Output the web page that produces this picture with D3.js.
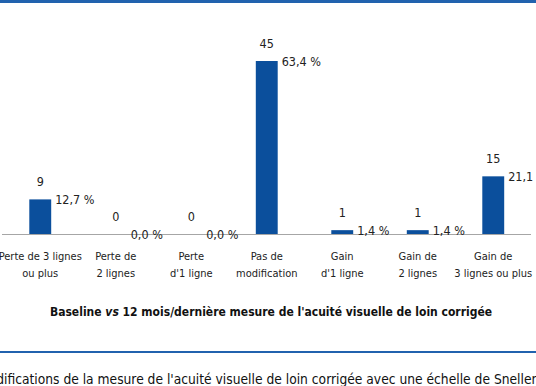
<!DOCTYPE html>
<html lang="fr">
<head>
<meta charset="UTF-8">
<title>acuité visuelle</title>
<script src="https://cdn.jsdelivr.net/npm/d3@7"></script>
<style>
  body { margin: 0; background: #fff; }
  svg { display: block; }
  .lbl { font-family: "DejaVu Sans Condensed", "Liberation Sans Narrow", sans-serif; font-size: 11px; fill: #222; }
  .cnt, .pct { font-size: 12.5px; }
</style>
</head>
<body>
<div id="chart"></div>
<script>
// données
const categories = [
  ["Perte de 3 lignes", "ou plus"],
  ["Perte de", "2 lignes"],
  ["Perte", "d'1 ligne"],
  ["Pas de", "modification"],
  ["Gain", "d'1 ligne"],
  ["Gain de", "2 lignes"],
  ["Gain de", "3 lignes ou plus"]
];
const counts = [9, 0, 0, 45, 1, 1, 15];
const percents = ["12,7 %", "0,0 %", "0,0 %", "63,4 %", "1,4 %", "1,4 %", "21,1 %"];

const W = 536, H = 386;
const svg = d3.select("#chart").append("svg")
  .attr("width", W).attr("height", H);

// filets bleus
svg.append("rect").attr("x", 0).attr("y", 0).attr("width", W).attr("height", 3).attr("fill", "#2162ae");
svg.append("rect").attr("x", 0).attr("y", 351).attr("width", W).attr("height", 2).attr("fill", "#2162ae");

const baseY = 234;
const x = d3.scaleBand()
  .domain(d3.range(categories.length))
  .range([2.5, 531])
  .paddingInner(0.71)
  .paddingOuter(0.355);
const y = d3.scaleLinear().domain([0, 45]).range([baseY, 61]);

const g = svg.append("g");

g.selectAll("rect.bar")
  .data(counts)
  .join("rect")
  .attr("class", "bar")
  .attr("x", (d, i) => x(i))
  .attr("y", d => y(d))
  .attr("width", x.bandwidth())
  .attr("height", d => baseY - y(d))
  .attr("fill", "#0b4f9c");

// axe
g.append("line")
  .attr("x1", 2).attr("x2", 531)
  .attr("y1", baseY + 0.5).attr("y2", baseY + 0.5)
  .attr("stroke", "#a6a6a6").attr("stroke-width", 1);

// effectifs
g.selectAll("text.cnt")
  .data(counts)
  .join("text")
  .attr("class", "lbl cnt")
  .attr("x", (d, i) => x(i) + x.bandwidth() / 2)
  .attr("y", d => y(d) - 13)
  .attr("text-anchor", "middle")
  .text(d => d);

// pourcentages
g.selectAll("text.pct")
  .data(percents)
  .join("text")
  .attr("class", "lbl pct")
  .attr("x", (d, i) => x(i) + x.bandwidth() + 4)
  .attr("y", (d, i) => y(counts[i]) + 5)
  .text(d => d);

// catégories
const cat = g.selectAll("text.cat")
  .data(categories)
  .join("text")
  .attr("class", "lbl cat")
  .attr("text-anchor", "middle")
  .attr("x", (d, i) => x(i) + x.bandwidth() / 2)
  .attr("y", 260);
cat.selectAll("tspan")
  .data(d => d)
  .join("tspan")
  .attr("x", function () { return this.parentNode.getAttribute("x"); })
  .attr("dy", (d, j) => j === 0 ? 0 : 17)
  .text(d => d);

// titre de l'axe
const t = svg.append("text")
  .attr("x", 271).attr("y", 316)
  .attr("text-anchor", "middle")
  .attr("font-family", "DejaVu Sans Condensed, sans-serif")
  .attr("font-weight", "bold")
  .attr("font-size", 12)
  .attr("fill", "#111");
t.append("tspan").text("Baseline ");
t.append("tspan").attr("font-style", "italic").text("vs");
t.append("tspan").text(" 12 mois/dernière mesure de l'acuité visuelle de loin corrigée");

// légende (coupée à gauche)
svg.append("text")
  .attr("x", -22).attr("y", 384)
  .attr("font-family", "DejaVu Sans Condensed, sans-serif")
  .attr("font-size", 13.7)
  .attr("fill", "#111")
  .text("Modifications de la mesure de l'acuité visuelle de loin corrigée avec une échelle de Snellen");
</script>
</body>
</html>
